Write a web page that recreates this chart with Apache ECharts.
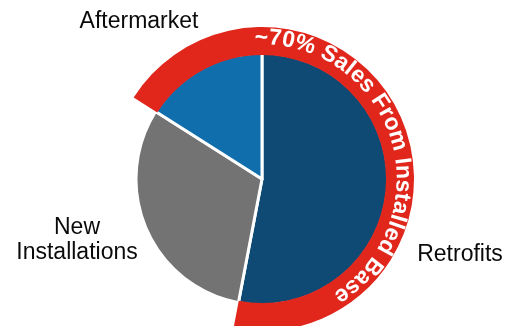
<!DOCTYPE html>
<html>
<head>
<meta charset="utf-8">
<script src="https://cdn.jsdelivr.net/npm/echarts@6/dist/echarts.min.js"></script>
<style>
  html, body { margin: 0; padding: 0; background: #ffffff; }
  #chart { width: 508px; height: 326px; }
</style>
</head>
<body>
<div id="chart"></div>
<script>
// Revenue split by business line (percent of sales)
const categories = ['Retrofits', 'New Installations', 'Aftermarket'];
const shares = [53, 31, 16];
const installedBaseNames = ['Retrofits', 'Aftermarket'];
const installedBaseText = '~70% Sales From Installed Base';

const sliceColors = ['#0e4a73', '#737373', '#116ead'];
const ringColor = '#e1261c';
const fontFamily = "'Liberation Sans', Arial, Helvetica, sans-serif";

const cx = 262, cy = 179;
const pieRadius = 126;
const ringInner = 124, ringOuter = 152;

const total = shares.reduce((a, b) => a + b, 0);
const installedBase = categories.reduce(
  (s, c, i) => s + (installedBaseNames.includes(c) ? shares[i] : 0), 0);
const aftermarketShare = shares[categories.indexOf('Aftermarket')];
const ringStart = 90 + aftermarketShare / total * 360;

// where each category name sits, outside the pie
const labelSpots = [[460, 255], [77, 240], [139, 22]];

const categoryLabels = categories.map((c, i) => ({
  type: 'text',
  x: labelSpots[i][0],
  y: labelSpots[i][1],
  z: 10,
  silent: true,
  style: {
    text: c.replace(' ', '\n'),
    fill: '#0a0a0a',
    font: '23px ' + fontFamily,
    lineHeight: 25,
    align: 'center',
    verticalAlign: 'middle'
  }
}));

// curved caption laid out character by character along the ring
function arcText(text, startDeg, endDeg, r, font) {
  const ctx = document.createElement('canvas').getContext('2d');
  ctx.font = font;
  const chars = Array.from(text);
  const widths = chars.map(ch => ctx.measureText(ch).width);
  const sum = widths.reduce((a, b) => a + b, 0);
  const arcLen = (endDeg - startDeg) * Math.PI / 180 * r;
  const gap = (arcLen - sum) / (chars.length - 1);
  const items = [];
  let pos = 0;
  chars.forEach((ch, i) => {
    const mid = pos + widths[i] / 2;
    const theta = (startDeg * Math.PI / 180) + mid / r;
    items.push({
      type: 'text',
      x: cx + r * Math.sin(theta),
      y: cy - r * Math.cos(theta),
      rotation: -theta,
      z: 10,
      silent: true,
      style: {
        text: ch,
        fill: '#ffffff',
        font: font,
        align: 'center',
        verticalAlign: 'middle'
      }
    });
    pos += widths[i] + gap;
  });
  return items;
}

const chart = echarts.init(document.getElementById('chart'), null, { renderer: 'canvas' });

chart.setOption({
  backgroundColor: '#ffffff',
  animation: false,
  series: [
    {
      type: 'pie',
      center: [cx, cy],
      radius: [0, pieRadius],
      startAngle: 90,
      clockwise: true,
      silent: true,
      z: 2,
      itemStyle: { borderColor: '#ffffff', borderWidth: 3 },
      label: { show: false },
      labelLine: { show: false },
      data: categories.map((c, i) => ({
        name: c,
        value: shares[i],
        itemStyle: { color: sliceColors[i] }
      }))
    },
    {
      type: 'pie',
      center: [cx, cy],
      radius: [ringInner, ringOuter],
      startAngle: ringStart,
      clockwise: true,
      silent: true,
      z: 3,
      label: { show: false },
      labelLine: { show: false },
      itemStyle: { borderWidth: 0 },
      data: [
        { name: 'Installed Base', value: installedBase, itemStyle: { color: ringColor } },
        { name: 'Other', value: total - installedBase, itemStyle: { color: 'rgba(0,0,0,0)' } }
      ]
    }
  ],
  graphic: categoryLabels.concat(
    arcText(installedBaseText, -3, 148, 141, 'bold 23px ' + fontFamily))
});
</script>
</body>
</html>
